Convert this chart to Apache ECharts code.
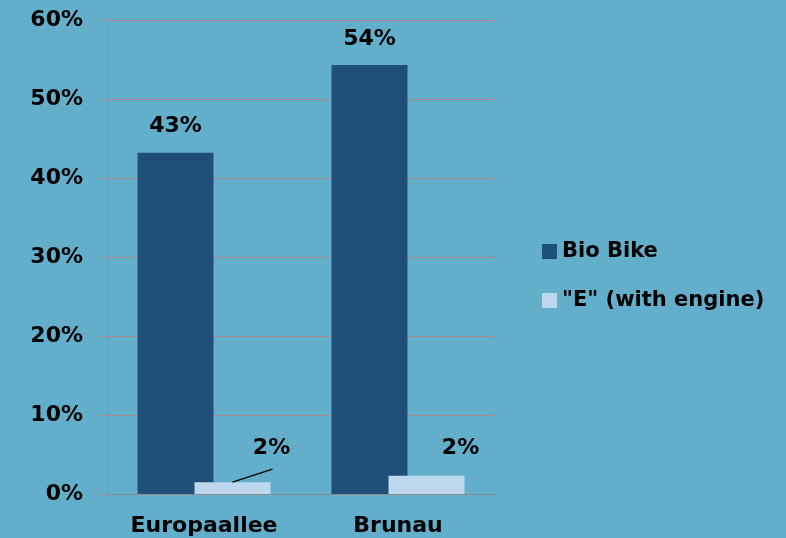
<!DOCTYPE html>
<html>
<head>
<meta charset="utf-8">
<script src="https://cdn.jsdelivr.net/npm/echarts@6/dist/echarts.min.js"></script>
<style>
  html, body { margin: 0; padding: 0; background: #63afcb; }
  #chart { width: 786px; height: 538px; }
</style>
</head>
<body>
<div id="chart"></div>
<script>
// data
var categories = ['Europaallee', 'Brunau'];
var bioBike = [43.2, 54.3];
var eBike = [1.5, 2.3];
var bioLabels = ['43%', '54%'];
var eLabels = ['2%', '2%'];

var font = '"DejaVu Sans", sans-serif';
var chart = echarts.init(document.getElementById('chart'));

// plot box
var gridL = 107, gridR = 291, gridT = 20, gridB = 44;

// bar geometry: both bars 76px wide, overlapping by a quarter
var barW = 76;
var barGap = -0.25;
var catW = (786 - gridL - gridR) / categories.length;
var pxPerUnit = (538 - gridT - gridB) / 60;
// centre of the light bar relative to its category, in category units
var eOffset = (barW * (1 + barGap)) / 2 / catW;

// small label offsets (px)
var eShift = [[39, -18], [34, -12]];

var option = {
    backgroundColor: '#63afcb',
    animation: false,
    grid: { left: gridL, right: gridR, top: gridT, bottom: gridB },
    legend: {
        orient: 'vertical',
        left: 537,
        top: 236,
        itemWidth: 15,
        itemHeight: 15,
        itemGap: 28,
        icon: 'rect',
        textStyle: { color: '#000', fontSize: 21, fontWeight: 'bold', fontFamily: font },
        data: ['Bio Bike', '"E" (with engine)']
    },
    xAxis: [
        {
            type: 'category',
            data: categories,
            axisLine: { lineStyle: { color: '#8c8c8c' } },
            axisTick: { length: 7, lineStyle: { color: '#8c8c8c' } },
            axisLabel: { color: '#000', fontSize: 22, fontWeight: 'bold', fontFamily: font, margin: 21 }
        },
        {
            // hidden helper axis matching the category bands, used for the leader line
            type: 'value',
            min: -0.5,
            max: categories.length - 0.5,
            show: false,
            axisLine: { show: false },
            axisTick: { show: false },
            axisLabel: { show: false },
            splitLine: { show: false }
        }
    ],
    yAxis: {
        type: 'value',
        min: 0,
        max: 60,
        interval: 10,
        axisLine: { show: true, onZero: false, lineStyle: { color: '#a88a8a' } },
        axisTick: { show: true, length: 7, lineStyle: { color: '#a88a8a' } },
        splitLine: { lineStyle: { color: '#a88a8a', width: 1 } },
        axisLabel: { color: '#000', fontSize: 22, fontWeight: 'bold', fontFamily: font, margin: 24, formatter: '{value}%' }
    },
    series: [
        {
            name: 'Bio Bike',
            type: 'bar',
            barWidth: barW,
            barGap: (barGap * 100) + '%',
            itemStyle: { color: '#1f4e79' },
            label: {
                show: true,
                position: 'top',
                distance: 15,
                color: '#000',
                fontSize: 22,
                fontWeight: 'bold',
                fontFamily: font,
                formatter: function (p) { return bioLabels[p.dataIndex]; }
            },
            data: bioBike
        },
        {
            name: '"E" (with engine)',
            type: 'bar',
            barWidth: barW,
            barGap: (barGap * 100) + '%',
            itemStyle: { color: '#bdd7ee' },
            label: {
                show: true,
                position: 'top',
                distance: 5,
                color: '#000',
                fontSize: 22,
                fontWeight: 'bold',
                fontFamily: font,
                formatter: function (p) { return eLabels[p.dataIndex]; }
            },
            labelLayout: function (p) {
                var s = eShift[p.dataIndex];
                return { dx: s[0], dy: s[1] };
            },
            data: eBike
        },
        {
            // leader line from the first light bar to its moved label
            type: 'line',
            xAxisIndex: 1,
            symbol: 'none',
            silent: true,
            lineStyle: { color: '#000', width: 1.3 },
            data: [
                [0 + eOffset, eBike[0]],
                [0 + eOffset + 40 / catW, eBike[0] + 13 / pxPerUnit]
            ]
        }
    ]
};
chart.setOption(option);
</script>
</body>
</html>
